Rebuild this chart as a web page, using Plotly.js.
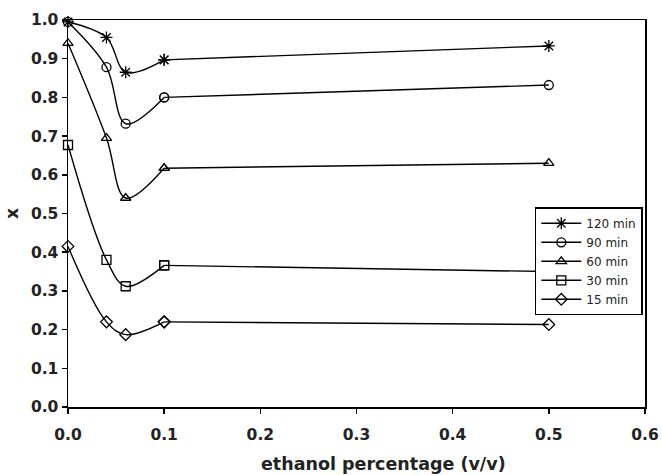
<!DOCTYPE html>
<html>
<head>
<meta charset="utf-8">
<script src="https://cdn.plot.ly/plotly-3.0.1.min.js"></script>
<style>html,body{margin:0;padding:0;background:#fff;}#chart{width:662px;height:475px;}</style>
</head>
<body>
<div id="chart"></div>
<script>
const ethanol = [0, 0.04, 0.06, 0.1, 0.5];
const seriesNames = ["120 min", "90 min", "60 min", "30 min", "15 min"];
const x120 = [0.995, 0.955, 0.865, 0.897, 0.933];
const x90 = [0.995, 0.878, 0.732, 0.800, 0.832];
const x60 = [0.940, 0.695, 0.540, 0.617, 0.630];
const x30 = [0.677, 0.380, 0.312, 0.366, 0.350];
const x15 = [0.415, 0.220, 0.187, 0.220, 0.213];
const seriesValues = [x120, x90, x60, x30, x15];
const symbols = ["asterisk-open", "circle-open", "triangle-up-open", "square-open", "diamond-open"];
const xTicks = [0, 0.1, 0.2, 0.3, 0.4, 0.5, 0.6];
const yTicks = [0, 0.1, 0.2, 0.3, 0.4, 0.5, 0.6, 0.7, 0.8, 0.9, 1.0];
const xTitle = "ethanol percentage (v/v)";
const yTitle = "x";

function markerFor(i) {
  return {symbol: symbols[i], size: i === 0 ? 10 : 9, color: "#000", line: {color: "#000", width: 1.3}};
}
const lineStyle = {color: "#000", width: 1.4};
const traces = [];
// smoothed part over the closely spaced points
seriesValues.forEach((vals, i) => {
  traces.push({
    x: ethanol.slice(0, 4), y: vals.slice(0, 4),
    type: "scatter", mode: "lines+markers", showlegend: false, legendgroup: "g" + i,
    line: Object.assign({shape: "spline", smoothing: 1}, lineStyle),
    marker: markerFor(i), cliponaxis: false
  });
});
// long last segment
seriesValues.forEach((vals, i) => {
  traces.push({
    x: ethanol.slice(3), y: vals.slice(3), name: seriesNames[i],
    type: "scatter", mode: "lines+markers", legendgroup: "g" + i,
    line: Object.assign({shape: "linear"}, lineStyle),
    marker: markerFor(i), cliponaxis: false
  });
});

const FONT = "DejaVu Sans, Arial, sans-serif";
const bold = v => "<b>" + v.toFixed(1) + "</b>";
const layout = {
  width: 662, height: 475,
  margin: {l: 68, r: 17, t: 20, b: 68},
  paper_bgcolor: "#fff", plot_bgcolor: "#fff",
  showlegend: true,
  legend: {
    x: 0.809, y: 0.516, xanchor: "left", yanchor: "top",
    bgcolor: "#fff", bordercolor: "#000", borderwidth: 1.5,
    font: {family: FONT, size: 12, color: "#222"},
    itemwidth: 40, tracegroupgap: 0
  },
  xaxis: {
    range: [0, 0.6], tickvals: xTicks, ticktext: xTicks.map(bold),
    showgrid: false, zeroline: false, showline: true, linecolor: "#000", linewidth: 1.5,
    mirror: true, ticks: "outside", ticklen: 5, tickcolor: "#000", tickwidth: 1.5,
    ticklabelstandoff: 8,
    tickfont: {family: FONT, size: 15.5, color: "#222"}
  },
  yaxis: {
    range: [0, 1.0], tickvals: yTicks, ticktext: yTicks.map(bold),
    showgrid: false, zeroline: false, showline: true, linecolor: "#000", linewidth: 1.5,
    mirror: true, ticks: "outside", ticklen: 5, tickcolor: "#000", tickwidth: 1.5,
    tickfont: {family: FONT, size: 15.5, color: "#222"},
    title: {text: "<b>" + yTitle + "</b>", font: {family: FONT, size: 17, color: "#222"}, standoff: 8}
  },
  annotations: [{
    text: "<b>" + xTitle + "</b>", xref: "paper", yref: "paper",
    x: 0.546, y: -0.147, xanchor: "center", yanchor: "middle", showarrow: false,
    font: {family: FONT, size: 17.5, color: "#222"}
  }]
};
Plotly.newPlot("chart", traces, layout, {displayModeBar: false, staticPlot: true});
</script>
</body>
</html>
